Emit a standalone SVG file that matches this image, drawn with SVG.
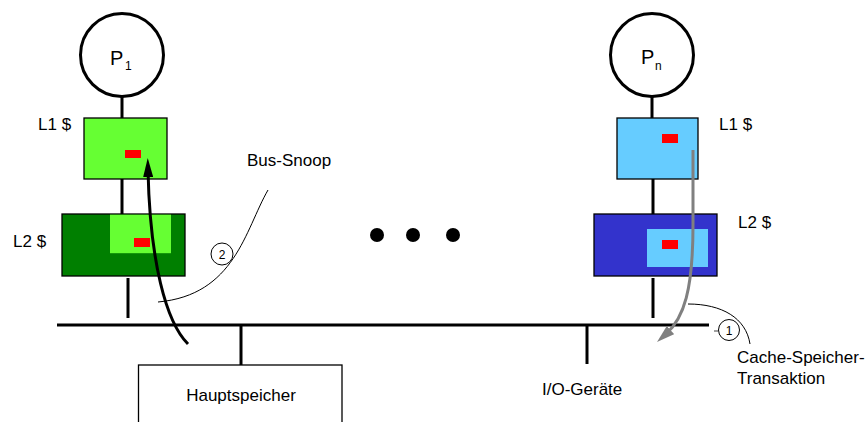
<svg xmlns="http://www.w3.org/2000/svg" width="867" height="422" viewBox="0 0 867 422">
  <style>
    text { font-family: "Liberation Sans", Arial, sans-serif; fill: #000; }
    .lbl { font-size: 17px; }
    .proc { fill: #fff; stroke: #000; stroke-width: 3; }
    .box { stroke: #000; stroke-width: 1.3; }
    .wire { stroke: #000; stroke-width: 3; fill: none; }
    .thin { stroke: #000; stroke-width: 1; fill: none; }
    .tag { fill: #fff; stroke: #000; stroke-width: 1; }
    .tagtxt { font-size: 12px; text-anchor: middle; }
    .red { fill: #ff0000; }
  </style>
  <defs>
    <marker id="headBlack" viewBox="0 0 19 10" refX="7" refY="5" markerWidth="19" markerHeight="10" orient="auto" markerUnits="userSpaceOnUse">
      <path d="M0,0 L19,5 L0,10 Z" fill="#000"/>
    </marker>
    <marker id="headGray" viewBox="0 0 18 11" refX="6" refY="5.5" markerWidth="18" markerHeight="11" orient="auto" markerUnits="userSpaceOnUse">
      <path d="M0,0 L18,5.5 L0,11 Z" fill="#808080"/>
    </marker>
  </defs>

  <!-- bus and stubs -->
  <g id="bus">
    <line class="wire" x1="57" y1="325" x2="709" y2="325"/>
    <line class="wire" x1="241" y1="325" x2="241" y2="365"/>
    <line class="wire" x1="587" y1="325" x2="587" y2="364"/>
  </g>

  <!-- processor 1 -->
  <g id="p1">
    <circle class="proc" cx="122" cy="55" r="41.5"/>
    <text x="110" y="65" font-size="20">P</text>
    <text x="125" y="70" font-size="12">1</text>
  </g>
  <g id="l1-left">
    <rect class="box" x="84" y="118" width="83" height="61" fill="#66ff33"/>
    <rect class="red" x="125" y="150" width="16" height="8"/>
    <text class="lbl" x="38" y="130">L1 $</text>
  </g>
  <g id="l2-left">
    <rect class="box" x="62" y="214" width="123" height="62" fill="#007f00"/>
    <rect x="110" y="214.7" width="61" height="38.5" fill="#66ff33"/>
    <rect class="red" x="134" y="238" width="16" height="9"/>
    <text class="lbl" x="13" y="247">L2 $</text>
  </g>

  <!-- processor n -->
  <g id="pn">
    <circle class="proc" cx="652" cy="55" r="41.5"/>
    <text x="641" y="64" font-size="20">P</text>
    <text x="655" y="70" font-size="12">n</text>
  </g>
  <g id="l1-right">
    <rect class="box" x="617" y="118" width="81" height="61" fill="#66ccff"/>
    <rect class="red" x="662" y="134" width="16" height="9"/>
    <text class="lbl" x="719" y="130">L1 $</text>
  </g>
  <g id="l2-right">
    <rect class="box" x="594" y="214" width="123" height="62" fill="#3333cc"/>
    <rect x="647" y="229" width="61" height="38" fill="#66ccff"/>
    <rect class="red" x="662" y="240" width="16" height="9"/>
    <text class="lbl" x="738" y="228">L2 $</text>
  </g>

  <!-- dots between processors -->
  <g id="ellipsis">
    <circle cx="377" cy="235" r="7" fill="#000"/>
    <circle cx="413" cy="235" r="7" fill="#000"/>
    <circle cx="453" cy="235" r="7" fill="#000"/>
  </g>

  <!-- main memory and I/O -->
  <g id="hauptspeicher">
    <rect x="138.5" y="365" width="203.5" height="70" fill="#fff" stroke="#000" stroke-width="1.3"/>
    <text class="lbl" x="241" y="401" text-anchor="middle">Hauptspeicher</text>
  </g>
  <g id="io">
    <text class="lbl" x="542" y="395">I/O-Geräte</text>
  </g>

  <!-- connectors -->
  <g id="connectors">
    <line class="wire" x1="122" y1="97" x2="122" y2="118"/>
    <line class="wire" x1="122" y1="179" x2="122" y2="214"/>
    <line class="wire" x1="128" y1="278" x2="128" y2="318"/>
    <line class="wire" x1="652" y1="97" x2="652" y2="118"/>
    <line class="wire" x1="653" y1="179" x2="653" y2="214"/>
    <line class="wire" x1="653" y1="278" x2="653" y2="318"/>

    <!-- snoop path back to L1 -->
    <path class="wire" d="M188,344 C166,322 150,262 148,170" marker-end="url(#headBlack)"/>
    <!-- write-back path from L1 to the bus -->
    <path d="M693,150 L693,225 C693,290 684,318 666,334" fill="none" stroke="#808080" stroke-width="3" marker-end="url(#headGray)"/>

    <!-- annotation leaders -->
    <path class="thin" d="M268,190 C245,230 235,295 158,302"/>
    <path class="thin" d="M688,304 C722,304 746,318 750,344"/>
    <line x1="714" y1="331" x2="718" y2="331" stroke="#808080" stroke-width="1.5"/>
  </g>

  <!-- annotation labels -->
  <g id="bus-snoop">
    <text class="lbl" x="247" y="166">Bus-Snoop</text>
    <circle class="tag" cx="222" cy="254" r="11"/>
    <text class="tagtxt" x="222" y="258.5">2</text>
  </g>
  <g id="transaktion">
    <circle class="tag" cx="729" cy="330" r="10.5"/>
    <text class="tagtxt" x="729" y="334.5">1</text>
    <text class="lbl" x="737" y="363">Cache-Speicher-</text>
    <text class="lbl" x="737" y="384">Transaktion</text>
  </g>
</svg>
